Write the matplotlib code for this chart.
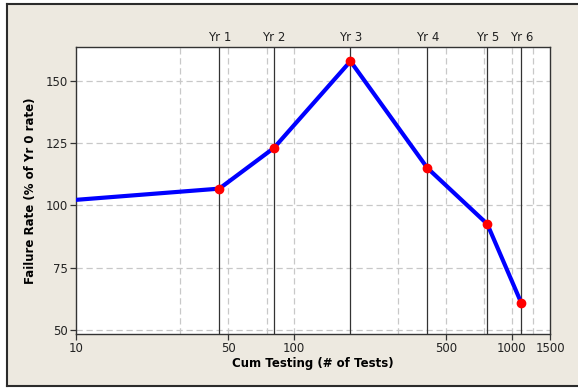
import matplotlib.pyplot as plt
from matplotlib.patches import Rectangle
from matplotlib.ticker import FixedLocator, NullLocator, FixedFormatter
import matplotlib.transforms as mtransforms

# data
cum_tests = [10, 45.5, 81, 182, 410, 773, 1108]
fail_rate = [102.2, 106.7, 123.0, 157.8, 115.0, 92.5, 60.8]
yr_labels = ['Yr 1', 'Yr 2', 'Yr 3', 'Yr 4', 'Yr 5', 'Yr 6']
yr_tests = cum_tests[1:]
x_ticks = [10, 50, 100, 500, 1000, 1500]
x_grid = [30, 50, 75, 100, 300, 500, 750, 1000, 1250]
y_ticks = [50, 75, 100, 125, 150]

bg = '#EDE9E0'
fig = plt.figure(figsize=(5.78, 3.88), dpi=100)
fig.patch.set_facecolor('white')
# beige panel with dark frame on left/top/bottom
fig.patches.append(Rectangle((7/578, 2/388), 1, 382/388, transform=fig.transFigure,
                             facecolor=bg, edgecolor='none', zorder=-2))
fig.lines.append(plt.Line2D([7/578, 7/578], [2/388, 384/388], transform=fig.transFigure,
                            color='#2b2b2b', lw=1.5))
fig.lines.append(plt.Line2D([7/578, 1], [384/388, 384/388], transform=fig.transFigure,
                            color='#2b2b2b', lw=1.5))
fig.lines.append(plt.Line2D([7/578, 1], [2/388, 2/388], transform=fig.transFigure,
                            color='#2b2b2b', lw=1.5))

ax = fig.add_axes([76/578, 1 - 334/388, 474/578, 287/388])
ax.set_xscale('log')
ax.set_xlim(10, 1500)
ax.set_ylim(48.4, 163.5)

for g in x_grid:
    ax.axvline(g, color='#c8c8c8', lw=0.9, ls=(0, (5, 3)), zorder=1)
for g in y_ticks:
    ax.axhline(g, color='#c8c8c8', lw=0.9, ls=(0, (5, 3)), zorder=1)
for xv in yr_tests:
    ax.axvline(xv, color='#333333', lw=0.9, zorder=2)

ax.plot(cum_tests, fail_rate, color='#0000ff', lw=3, zorder=3)
ax.plot(yr_tests, fail_rate[1:], 'o', color='#ff0000', ms=6, zorder=4)

ax.xaxis.set_major_locator(FixedLocator(x_ticks))
ax.xaxis.set_major_formatter(FixedFormatter([str(t) for t in x_ticks]))
ax.xaxis.set_minor_locator(NullLocator())
ax.set_yticks(y_ticks)
ax.tick_params(labelsize=8.5, length=4, width=0.9, color='#333333', labelcolor='#222222', pad=2)

trans = mtransforms.blended_transform_factory(ax.transData, ax.transAxes)
for lab, xv in zip(yr_labels, yr_tests):
    ax.text(xv, 1.012, lab, transform=trans, ha='center', va='bottom', fontsize=8.5, color='#222222')

ax.set_xlabel('Cum Testing (# of Tests)', fontsize=8.5, fontweight='bold', labelpad=1)
ax.set_ylabel('Failure Rate (% of Yr 0 rate)', fontsize=8.5, fontweight='bold', labelpad=6)
for s in ax.spines.values():
    s.set_color('#333333')
    s.set_linewidth(1.0)

fig.savefig('out.png', dpi=100, facecolor=fig.get_facecolor())
